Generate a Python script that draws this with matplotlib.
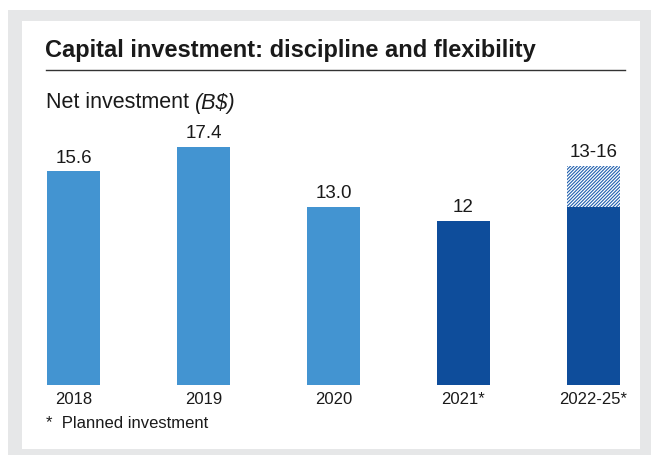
import matplotlib.pyplot as plt
from matplotlib.patches import Rectangle

categories = ['2018', '2019', '2020', '2021*', '2022-25*']
values = [15.6, 17.4, 13.0, 12, 13]
planned_top = 16  # upper end of the 2022-25 range
value_labels = ['15.6', '17.4', '13.0', '12', '13-16']
is_planned = [False, False, False, True, True]

light_blue = '#4394d1'
dark_blue = '#0e4d9b'
text_color = '#1a1a1a'
frame_gray = '#e6e7e8'

plt.rcParams['font.family'] = ['Liberation Sans', 'DejaVu Sans']
plt.rcParams['hatch.color'] = '#1f5fae'
plt.rcParams['hatch.linewidth'] = 0.8

W, H = 651, 456
fig = plt.figure(figsize=(W / 100, H / 100), dpi=100)
fig.patch.set_facecolor('white')

def px(x, y):
    # image pixel coords (top-left origin) -> figure fraction
    return x / W, 1 - y / H

# gray frame and white panel
x0, y0 = px(8, 456)
fig.patches.append(Rectangle((x0, y0), (651 - 8) / W, (456 - 11) / H,
                             transform=fig.transFigure, facecolor=frame_gray,
                             edgecolor='none', zorder=-2))
x0, y0 = px(22, 450)
fig.patches.append(Rectangle((x0, y0), (640 - 22) / W, (450 - 22) / H,
                             transform=fig.transFigure, facecolor='white',
                             edgecolor='none', zorder=-1))

# title, rule and subtitle
tx, ty = px(45, 50)
fig.text(tx, ty, 'Capital investment: discipline and flexibility', fontsize=17,
         fontweight='bold', color=text_color, va='center', ha='left')
lx0, ly = px(46, 71)
lx1, _ = px(625, 71)
fig.add_artist(plt.Line2D([lx0, lx1], [ly, ly], transform=fig.transFigure,
                          color='#333333', linewidth=1.0))
sx, sy = px(46, 103)
sub = fig.text(sx, sy, 'Net investment ', fontsize=15.5, color=text_color,
               va='center', ha='left')
fig.canvas.draw()
sub_end = sub.get_window_extent().x1 / W
fig.text(sub_end, sy, '(B$)', fontsize=15.5, color=text_color, va='center',
         ha='left', style='italic')

# axes: bottom of bars at y=385 px, 13.7 px per unit, 130 px between bars
ax_left, ax_right = 22, 640
ax_bottom = 386
ax_top = ax_bottom - 13.7 * 20
l, b = px(ax_left, ax_bottom)
r, t = px(ax_right, ax_top)
ax = fig.add_axes([l, b, r - l, t - b])
ax.set_facecolor('none')
ax.set_xlim(-(73.5 - ax_left) / 130, (ax_right - 73.5) / 130)
ax.set_ylim(0, 20)
for s in ax.spines.values():
    s.set_visible(False)
ax.set_yticks([])

x = list(range(len(categories)))
colors = [dark_blue if p else light_blue for p in is_planned]
ax.bar(x, values, width=53 / 130, color=colors, edgecolor='none')
ax.bar(x[-1], planned_top - values[-1], bottom=values[-1], width=53 / 130,
       color='white', edgecolor='#1f5fae', hatch='//////////', linewidth=0)

tops = values[:-1] + [planned_top]
for xi, top, lab in zip(x, tops, value_labels):
    ax.annotate(lab, (xi, top), xytext=(0, 4), textcoords='offset points',
                ha='center', va='bottom', fontsize=13.5, color=text_color)

ax.set_xticks(x)
ax.set_xticklabels(categories, fontsize=12, color=text_color)
ax.tick_params(axis='x', length=0, pad=4)

fx, fy = px(46, 423)
fig.text(fx, fy, '*  Planned investment', fontsize=12, color=text_color,
         va='center', ha='left')

fig.savefig('out.png', dpi=100)
